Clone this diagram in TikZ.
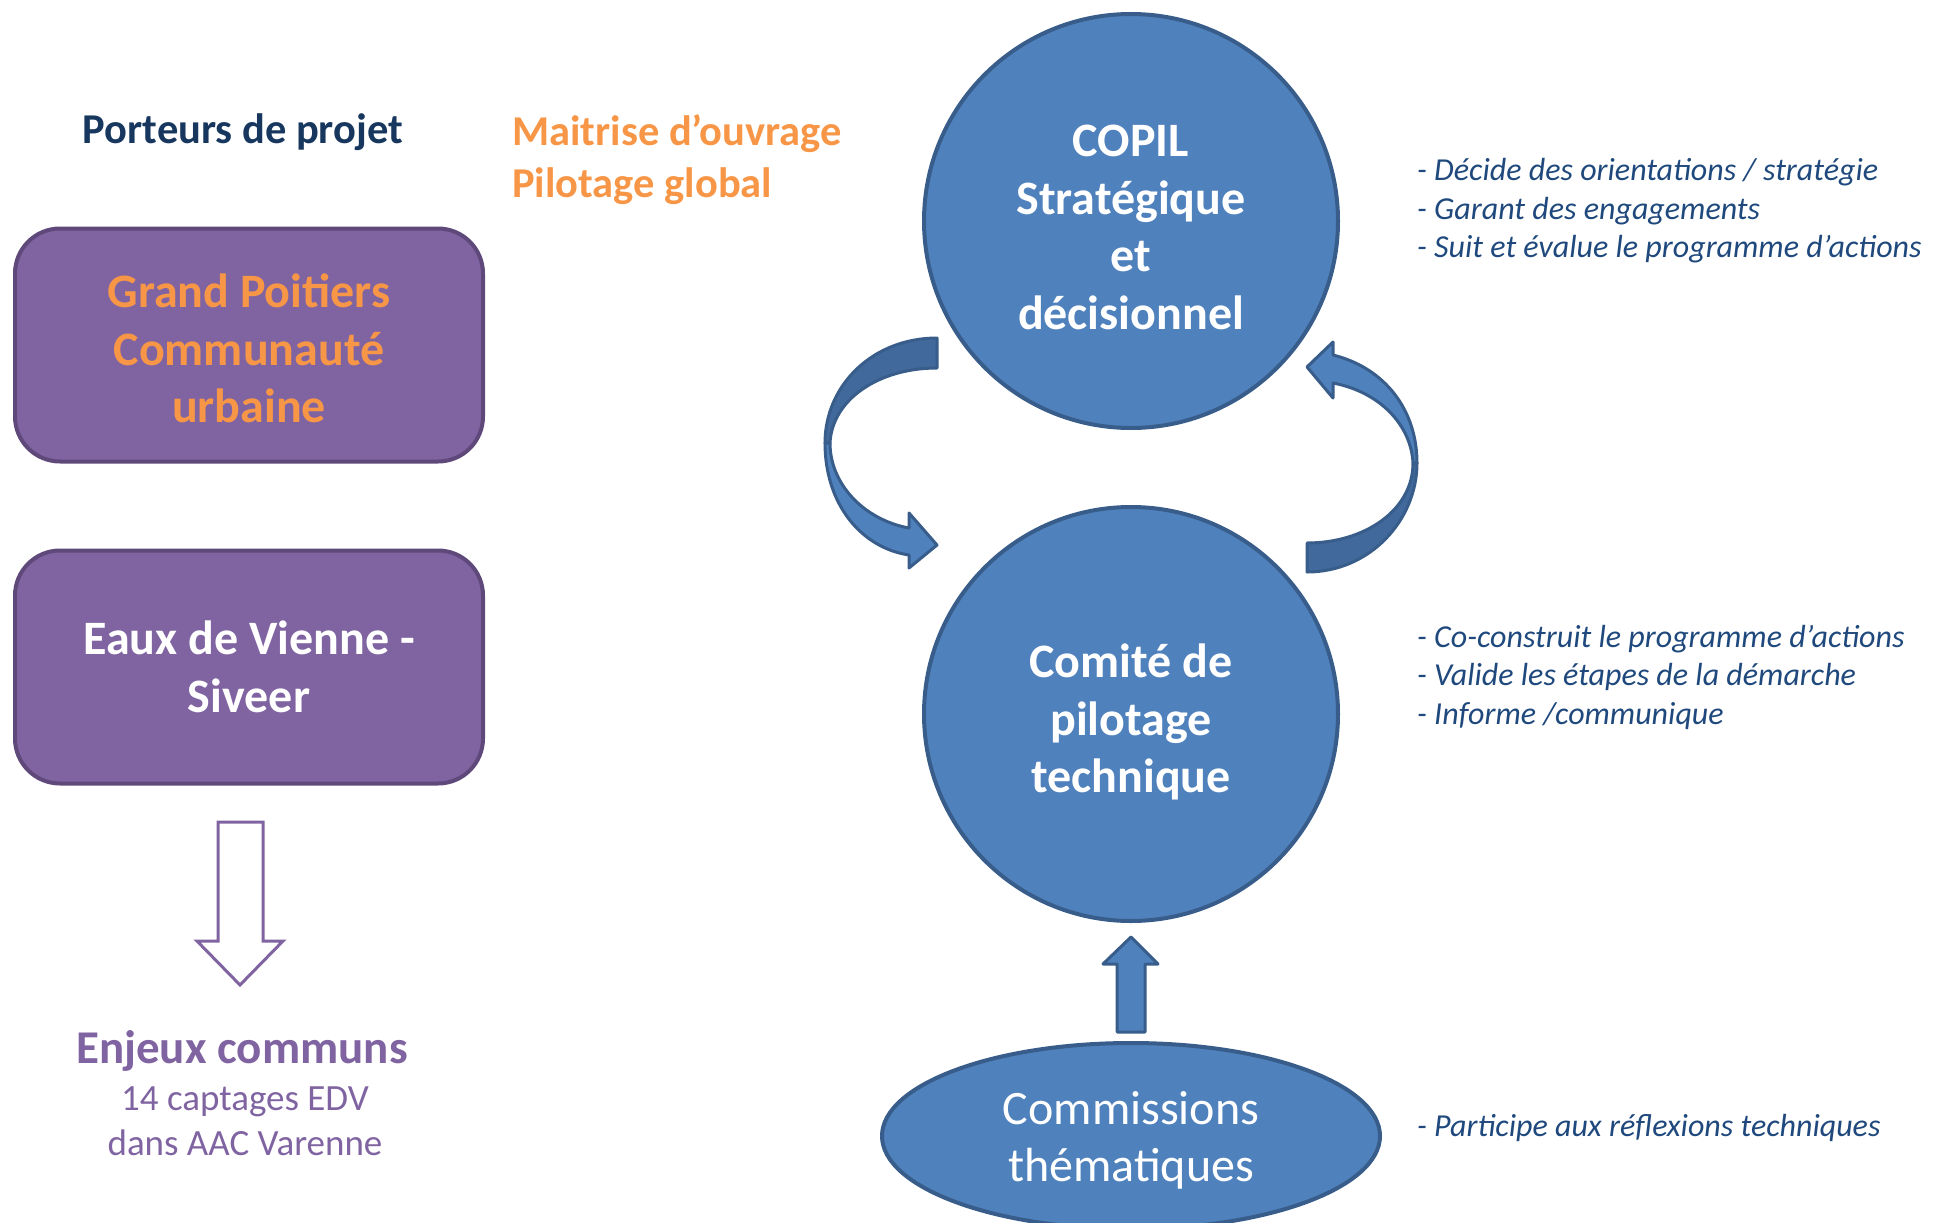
\documentclass[tikz,border=0pt]{standalone}
\usepackage{fontspec}
\setmainfont{Carlito}
\usepackage{tikz}
\usetikzlibrary{shapes.geometric}
\definecolor{navytxt}{HTML}{17375E}
\definecolor{orangetxt}{HTML}{F79646}
\definecolor{purplefill}{HTML}{8064A2}
\definecolor{purpleline}{HTML}{5F497A}
\definecolor{bluefill}{HTML}{4F81BD}
\definecolor{blueline}{HTML}{385D8A}
\definecolor{bluedark}{HTML}{41699C}
\definecolor{notetxt}{HTML}{1F497D}
\newcommand{\fsize}[2]{\fontsize{#1}{#2}\selectfont}

\begin{document}
\begin{tikzpicture}[x=1pt,y=-1pt,
  porteur/.style={rectangle,rounded corners=45pt,draw=purpleline,line width=4pt,fill=purplefill,minimum width=468pt,minimum height=233pt,align=center,font=\bfseries\fsize{48}{57.5}},
  comite/.style={circle,draw=blueline,line width=4pt,fill=bluefill,minimum size=414pt,inner sep=0pt,align=center,text=white,font=\bfseries\fsize{48}{57.5}},
  note/.style={anchor=west,inner sep=0pt,align=left,text=notetxt,font=\itshape\fsize{32}{38.5}},
  frontband/.style={fill=bluefill,draw=blueline,line width=3pt,line join=round},
  backband/.style={fill=bluedark,draw=blueline,line width=3pt,line join=round}]

\useasboundingbox (0,0) rectangle (1941,1223);

\node[anchor=base,text=navytxt,font=\bfseries\fsize{42.5}{52}] (porteurs) at (243,143) {Porteurs de projet};
\node[anchor=west,inner sep=0pt,align=left,text=orangetxt,font=\bfseries\fsize{42.5}{52}] (moa) at (512,160) {Maitrise d’ouvrage\\Pilotage global};

\node[porteur,text=orangetxt,text height=156pt] (gpcu) at (249,345) {Grand Poitiers\\Communauté\\urbaine};
\node[porteur,text=white] (edv) at (249,667) {Eaux de Vienne -\\Siveer};

\draw[draw=purplefill,line width=3pt,fill=white] (218,822) -- (263,822) -- (263,941) -- (283,941) -- (240,985) -- (197,941) -- (218,941) -- cycle;

\node[anchor=base,text=purplefill,font=\bfseries\fsize{47}{52}] (enjeux) at (242,1063) {Enjeux communs};
\node[align=center,text=purplefill,font=\fsize{37}{45}] (captages) at (245,1121) {14 captages EDV\\dans AAC Varenne};

\node[comite,text height=217pt] (copil) at (1131,221) {COPIL\\Stratégique\\et\\décisionnel};
\node[comite,text height=165pt] (cotech) at (1131,714) {Comité de\\pilotage\\technique};
\node[ellipse,draw=blueline,line width=4pt,fill=bluefill,minimum width=498pt,minimum height=186pt,inner sep=0pt,align=center,text=white,text height=98pt,font=\fsize{48}{57}] (commissions) at (1131,1136) {Commissions\\thématiques};

\draw[backband] (937,338) .. controls (873,338) and (825,385) .. (825,443) -- (830,443) .. controls (832,400) and (878,368) .. (937,368) -- cycle;
\draw[frontband] (825,443) .. controls (825,505) and (862,548) .. (909,555) -- (909,568) -- (937,545) -- (909,513) -- (909,528) .. controls (865,520) and (830,485) .. (830,443) -- cycle;

\draw[backband] (1417,463) .. controls (1417,520) and (1370,572) .. (1307,572) -- (1307,543) .. controls (1365,543) and (1413,510) .. (1413,463) -- cycle;
\draw[frontband] (1333,355) .. controls (1385,368) and (1417,410) .. (1417,463) -- (1413,463) .. controls (1411,425) and (1380,392) .. (1333,383) -- (1333,398) -- (1307,367) -- (1333,342) -- cycle;

\draw[frontband] (1117,1032) -- (1117,964) -- (1103,964) -- (1131,937) -- (1158,964) -- (1145,964) -- (1145,1032) -- cycle;

\node[note] (copilnote) at (1417,211) {- Décide des orientations / stratégie\\- Garant des engagements\\- Suit et évalue le programme d’actions};
\node[note] (cotechnote) at (1417,677) {- Co-construit le programme d’actions\\- Valide les étapes de la démarche\\- Informe /communique};
\node[note,anchor=base west] (commnote) at (1417,1136) {- Participe aux réflexions techniques};
\end{tikzpicture}
\end{document}
